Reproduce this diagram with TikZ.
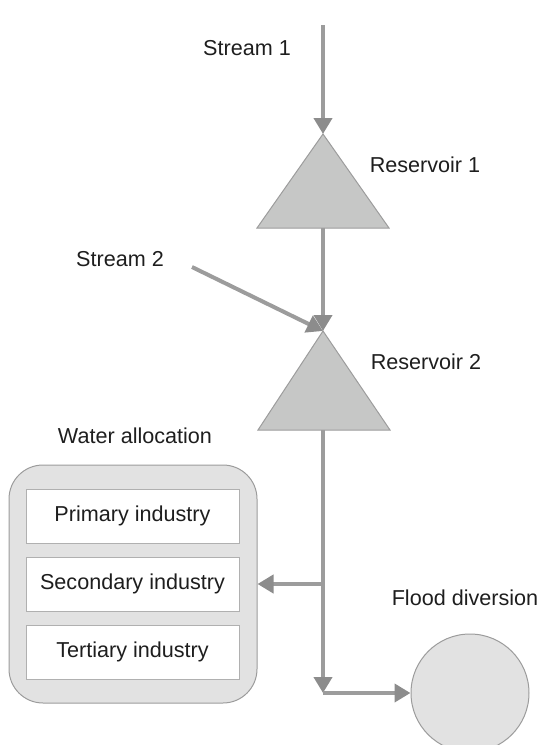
\documentclass[tikz,border=0pt]{standalone}
\usepackage{fontspec}
\setmainfont{Liberation Sans}
\usetikzlibrary{arrows.meta, positioning}
\definecolor{flowgray}{HTML}{9C9C9C}
\definecolor{tipgray}{HTML}{8C8C8C}
\definecolor{tankgray}{HTML}{C6C7C6}
\definecolor{boxgray}{HTML}{E2E2E2}
\definecolor{textgray}{HTML}{1E1E1E}

\begin{document}
\begin{tikzpicture}[x=0.5pt, y=-0.5pt, font=\fontsize{10.8}{12}\selectfont, text=textgray,
    flow/.style={draw=flowgray, line width=2pt, -{Triangle[width=9pt, length=8pt, color=tipgray]}},
    tank/.style={draw=flowgray, line width=0.5pt, fill=tankgray},
    group/.style={draw=flowgray, line width=0.5pt, fill=boxgray, rounded corners=17pt,
        minimum width=124pt, minimum height=119pt},
    sector/.style={draw=flowgray!80, line width=0.5pt, fill=white,
        minimum width=106.5pt, minimum height=27pt},
    sink/.style={circle, draw=flowgray, line width=0.5pt, fill=boxgray, minimum size=59pt, inner sep=0pt}]

\useasboundingbox (0,0) rectangle (539,745);

% reservoirs
\foreach \name/\ytop/\ybot in {res1/134/228, res2/331/430}{
    \coordinate (\name top) at (323,\ytop);
    \coordinate (\name bot) at (323,\ybot);
};

\coordinate (s1) at (323,25);
\coordinate (s2) at (192,267);
\coordinate (branch) at (323,584);
\coordinate (corner) at (323,693);

% water allocation
\node[group] (alloc) at (133,584) {};
\node[sector] (primary) at (132.5,516) {Primary industry};
\node[sector] (secondary) at (132.5,584) {Secondary industry};
\node[sector] (tertiary) at (132.5,652) {Tertiary industry};

\node[sink] (flood) at (470,693) {};

% flows
\draw[flow] (s1) -- (res1top);
\draw[flow] (res1bot) -- (res2top);
\draw[flow] (s2) -- (res2top);
\draw[flow] (res2bot) -- (corner);
\draw[flow] (branch) -- (alloc.east);
\draw[flow] (corner) -- (flood.west);

\draw[tank] (res1top) -- (389,228) -- (257,228) -- cycle;
\draw[tank] (res2top) -- (390,430) -- (258,430) -- cycle;

% labels
\node (lab1) at (247,48) {Stream 1};
\node (lab2) at (120,259) {Stream 2};
\node (lab3) at (425,165) {Reservoir 1};
\node (lab4) at (426,362) {Reservoir 2};
\node (lab5) at (135,436) {Water allocation};
\node (lab6) at (465,598) {Flood diversion};

\end{tikzpicture}
\end{document}
